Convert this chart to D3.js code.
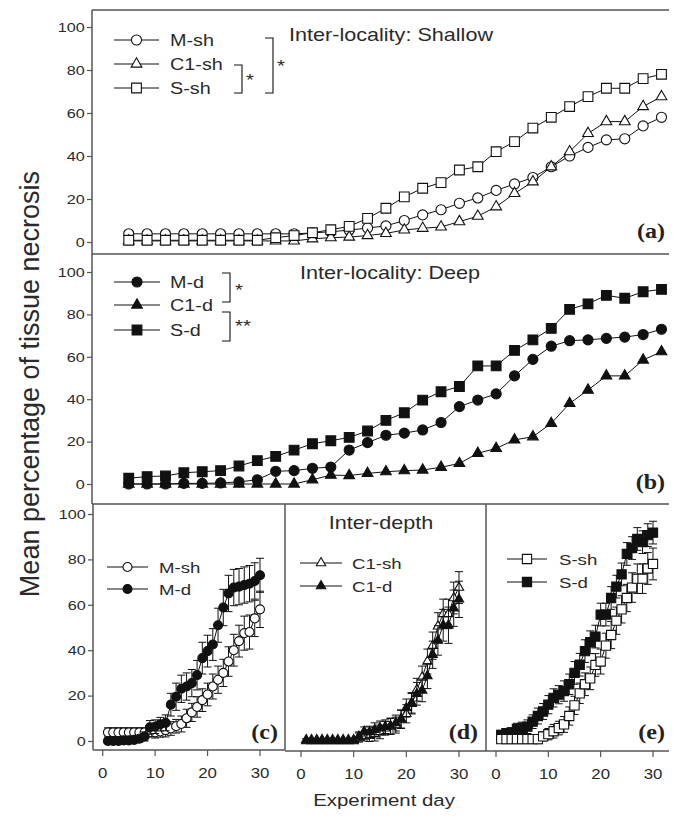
<!DOCTYPE html>
<html>
<head>
<meta charset="utf-8">
<script src="https://cdn.jsdelivr.net/npm/d3@7"></script>
<style>
  body { margin: 0; background: #fff; }
  svg { display: block; font-family: "Liberation Sans", Arial, sans-serif; }
</style>
</head>
<body>
<svg width="673" height="816"></svg>
<script>
// experiment days and mean % necrosis per group
const days = [1,2,3,4,5,6,7,8,9,10,11,12,13,14,15,16,17,18,19,20,21,22,23,24,25,26,27,28,29,30];

const mSh    = [3.8,3.8,3.8,3.8,3.8,3.8,3.8,3.8,3.8,3.8,4.2,4.8,5.5,6.5,7.5,10,12.6,15,18,20.5,24,27,30,35,40,44,47.5,48,54,58];
const mShErr = [2,2,2,2,2,2,2,2,2,2.5,2.5,3,3,3,3.5,4,4,4.5,5,5,5.5,6,6,6.5,7,7,7.5,7.5,8,8];
const mD     = [0,0,0,0.3,0.3,0.5,1,2,6,6.3,7.4,8,16,19.5,23,24,25.5,29,36.5,39.6,42.5,51,58.8,65,67.6,68,68.7,69.3,70.5,73];
const mDErr  = [1,1,1,1,1,1,1.5,2,3,3,3,3.5,5,6,6,6,6,6.5,7,7,7,7.5,8,8,8,8,8,8,8,7.5];

const c1Sh    = [0.5,0.5,0.5,0.5,0.5,0.5,0.5,0.5,0.5,0.5,1.5,2,2.3,3,4,5.6,6.4,7,9.5,12,16.4,22.6,28,35,42,50.5,56,56,63,67.6];
const c1ShErr = [0.5,0.5,0.5,0.5,0.5,0.5,0.5,0.5,0.5,0.5,2,2,2.5,3,3,3,3.5,3.5,4,4,4.5,5,5,5.5,6,6,6.5,6.5,7,7];
const c1D     = [0,0,0,0,0,0,0,0,0,0,2,4.2,4,5,5.8,6.3,6.6,7.9,9.7,14.5,16.8,20.8,22.3,28.6,38,44.3,51,51,58.5,62.4];
const c1DErr  = [0,0,0,0,0,0,0,0,0,0,2,2,2.5,3,3,3,3.5,3.5,4,4,4.5,5,5,5.5,6,6.5,7,8,8,8];

const sSh    = [0.8,0.8,0.8,0.8,0.8,0.8,0.8,0.8,2,3,4.3,5.7,7.3,11,15.7,21,25,27.6,33.5,35,42,46.7,53,58,63,67.6,71.5,71.5,76,78];
const sShErr = [1,1,1,1,1,1.5,1.5,2,2,2.5,3,3,3.5,4,4,4.5,5,5,5,5.5,5.5,6,6,6,6,6.5,6.5,6.5,7,7];
const sD     = [2.7,3.5,3.8,5.3,5.8,6.3,8.5,11,13,16,19,20.4,22,25,30,33.6,39.6,43.5,46,55.7,55.7,63,68,73.4,82.4,85,89,87.6,90.7,91.8];
const sDErr  = [2,2,2,2.5,2.5,3,3,3.5,3.5,4,4,4,4.5,4.5,5,5,5,5,5,5,5,5,5,5,5,5,5,5,5,5];

const yTicks = [0,20,40,60,80,100];
const xTicks = [0,10,20,30];

const svg = d3.select('svg');
const SX = 1.2;          // the figure is a little stretched sideways
const ink = '#111';
const frame = '#555';
const txtCol = '#2a2a2a';

function txt(x, y, s, size, anchor, extra) {
  const t = svg.append('text')
    .attr('transform', `translate(${x},${y}) scale(${SX},1)`)
    .attr('text-anchor', anchor || 'start')
    .attr('font-size', size)
    .attr('fill', txtCol)
    .text(s);
  if (extra) extra(t);
  return t;
}
function hline(x1, x2, y) {
  svg.append('line').attr('x1', x1).attr('x2', x2).attr('y1', y).attr('y2', y)
    .attr('stroke', frame).attr('stroke-width', 1.5);
}
function vline(x, y1, y2) {
  svg.append('line').attr('x1', x).attr('x2', x).attr('y1', y1).attr('y2', y2)
    .attr('stroke', frame).attr('stroke-width', 1.5);
}

// scales
const xTop = d3.scaleLinear().domain([-1, 30.3]).range([92, 667]);
const yA = d3.scaleLinear().domain([0, 100]).range([242, 27]);
const yB = d3.scaleLinear().domain([0, 100]).range([484, 272]);
const yC = d3.scaleLinear().domain([0, 100]).range([741, 514]);
const xC = d3.scaleLinear().domain([0, 30]).range([102.7, 260]);
const xD = d3.scaleLinear().domain([0, 30]).range([301, 459]);
const xE = d3.scaleLinear().domain([0, 30]).range([496, 653]);

const shapes = { circle: d3.symbolCircle, triangle: d3.symbolTriangle, square: d3.symbolSquare };

function series(x, y, vals, errs, shape, filled, size) {
  const g = svg.append('g');
  if (errs) {
    const eb = g.selectAll('g.eb').data(vals).enter().append('g');
    eb.append('line')
      .attr('x1', (d, i) => x(days[i])).attr('x2', (d, i) => x(days[i]))
      .attr('y1', (d, i) => y(d - errs[i])).attr('y2', (d, i) => y(d + errs[i]))
      .attr('stroke', ink).attr('stroke-width', 1);
    [-1, 1].forEach(sgn => {
      eb.append('line')
        .attr('x1', (d, i) => x(days[i]) - 4).attr('x2', (d, i) => x(days[i]) + 4)
        .attr('y1', (d, i) => y(d + sgn * errs[i])).attr('y2', (d, i) => y(d + sgn * errs[i]))
        .attr('stroke', ink).attr('stroke-width', 1);
    });
  }
  g.append('path')
    .attr('d', d3.line().x((d, i) => x(days[i])).y(d => y(d))(vals))
    .attr('fill', 'none').attr('stroke', ink).attr('stroke-width', 1);
  g.selectAll('path.m').data(vals).enter().append('path')
    .attr('transform', (d, i) => `translate(${x(days[i])},${y(d)})`)
    .attr('d', d3.symbol().type(shapes[shape]).size(size))
    .attr('fill', filled ? ink : '#fff')
    .attr('stroke', ink).attr('stroke-width', 1.1);
}

function legendRow(x1, x2, y, shape, filled, size, label, tx, fs) {
  svg.append('line').attr('x1', x1).attr('x2', x2).attr('y1', y).attr('y2', y)
    .attr('stroke', ink).attr('stroke-width', 1);
  svg.append('path')
    .attr('transform', `translate(${(x1 + x2) / 2},${y})`)
    .attr('d', d3.symbol().type(shapes[shape]).size(size))
    .attr('fill', filled ? ink : '#fff').attr('stroke', ink).attr('stroke-width', 1.1);
  txt(tx, y + fs * 0.36, label, fs);
}

function bracket(x, y1, y2) {
  svg.append('path')
    .attr('d', `M${x - 8},${y1}H${x}V${y2}H${x - 8}`)
    .attr('fill', 'none').attr('stroke', ink).attr('stroke-width', 1.1);
}

function yAxis(scale, x) {
  const g = svg.append('g').attr('transform', `translate(${x},0)`)
    .call(d3.axisLeft(scale).tickValues(yTicks).tickSize(5).tickPadding(1).tickSizeOuter(0));
  g.select('.domain').remove();
  g.selectAll('line').attr('stroke', frame).attr('stroke-width', 1.2);
  g.selectAll('text').attr('font-size', 13.5).attr('fill', txtCol)
    .attr('font-family', '"Liberation Sans", Arial, sans-serif')
    .attr('transform', `scale(${SX},1)`);
}
function xAxis(scale, y) {
  const g = svg.append('g').attr('transform', `translate(0,${y})`)
    .call(d3.axisBottom(scale).tickValues(xTicks).tickSize(6).tickPadding(18).tickSizeOuter(0));
  g.select('.domain').remove();
  g.selectAll('.tick').attr('transform', null);
  g.selectAll('.tick line').attr('x1', d => scale(d)).attr('x2', d => scale(d))
    .attr('stroke', frame).attr('stroke-width', 1.2);
  g.selectAll('.tick text').attr('font-size', 14).attr('fill', txtCol)
    .attr('font-family', '"Liberation Sans", Arial, sans-serif')
    .attr('dy', '0.32em')
    .attr('transform', d => `translate(${scale(d)},0) scale(${SX},1)`);
}

// ---- frames ----
hline(92, 669, 10);
hline(92, 669, 254);
hline(92, 669, 504);
vline(92, 10, 504);
vline(93, 504, 750);
vline(285, 504, 750);
vline(486, 504, 751);
hline(93, 285, 750);
hline(285, 486, 751);
hline(486, 669, 751);

yAxis(yA, 92);
yAxis(yB, 92);
yAxis(yC, 93);
xAxis(xC, 750);
xAxis(xD, 751);
xAxis(xE, 751);

// ---- (a) inter-locality shallow ----
series(xTop, yA, mSh, null, 'circle', false, 80);
series(xTop, yA, c1Sh, null, 'triangle', false, 50);
series(xTop, yA, sSh, null, 'square', false, 95);

// ---- (b) inter-locality deep ----
series(xTop, yB, mD, null, 'circle', true, 80);
series(xTop, yB, c1D, null, 'triangle', true, 50);
series(xTop, yB, sD, null, 'square', true, 95);

// ---- (c), (d), (e) inter-depth ----
series(xC, yC, mSh, mShErr, 'circle', false, 64);
series(xC, yC, mD, mDErr, 'circle', true, 64);
series(xD, yC, c1Sh, c1ShErr, 'triangle', false, 38);
series(xD, yC, c1D, c1DErr, 'triangle', true, 38);
series(xE, yC, sD, sDErr, 'square', true, 85);
series(xE, yC, sSh, sShErr, 'square', false, 85);

// ---- legends ----
legendRow(114, 159, 40, 'circle', false, 80, 'M-sh', 170, 16.5);
legendRow(114, 159, 64, 'triangle', false, 50, 'C1-sh', 170, 16.5);
legendRow(114, 159, 88, 'square', false, 95, 'S-sh', 170, 16.5);
bracket(242, 65, 93);
bracket(273, 38, 93);
txt(246, 86, '*', 17);
txt(277, 72, '*', 17);

legendRow(114, 160, 282, 'circle', true, 80, 'M-d', 170, 16.5);
legendRow(114, 160, 305, 'triangle', true, 50, 'C1-d', 170, 16.5);
legendRow(114, 160, 330, 'square', true, 95, 'S-d', 170, 16.5);
bracket(230, 273, 302);
bracket(230, 312, 341);
txt(235, 296, '*', 17);
txt(235, 332, '**', 17);

legendRow(107, 148, 567, 'circle', false, 64, 'M-sh', 159, 15.5);
legendRow(107, 148, 589, 'circle', true, 64, 'M-d', 159, 15.5);
legendRow(300, 342, 563, 'triangle', false, 38, 'C1-sh', 352, 15.5);
legendRow(300, 342, 586, 'triangle', true, 38, 'C1-d', 352, 15.5);
legendRow(507, 547, 559, 'square', false, 85, 'S-sh', 559, 15.5);
legendRow(507, 547, 582, 'square', true, 85, 'S-d', 559, 15.5);

// ---- titles & panel letters ----
txt(289, 41, 'Inter-locality: Shallow', 18);
txt(300, 279, 'Inter-locality: Deep', 18);
txt(381, 529, 'Inter-depth', 18, 'middle');

const letter = t => t.attr('font-family', '"Liberation Serif", "Times New Roman", serif')
  .attr('font-weight', 'bold').attr('fill', '#222');
txt(665, 238, '(a)', 20, 'end', letter);
txt(665, 489, '(b)', 20, 'end', letter);
txt(278, 739, '(c)', 20, 'end', letter);
txt(478, 739, '(d)', 20, 'end', letter);
txt(665, 739, '(e)', 20, 'end', letter);

// axis titles
txt(384, 806, 'Experiment day', 17, 'middle');
svg.append('text')
  .attr('transform', 'translate(39,384) rotate(-90)')
  .attr('text-anchor', 'middle')
  .attr('font-size', 27)
  .attr('fill', txtCol)
  .text('Mean percentage of tissue necrosis');
</script>
</body>
</html>
